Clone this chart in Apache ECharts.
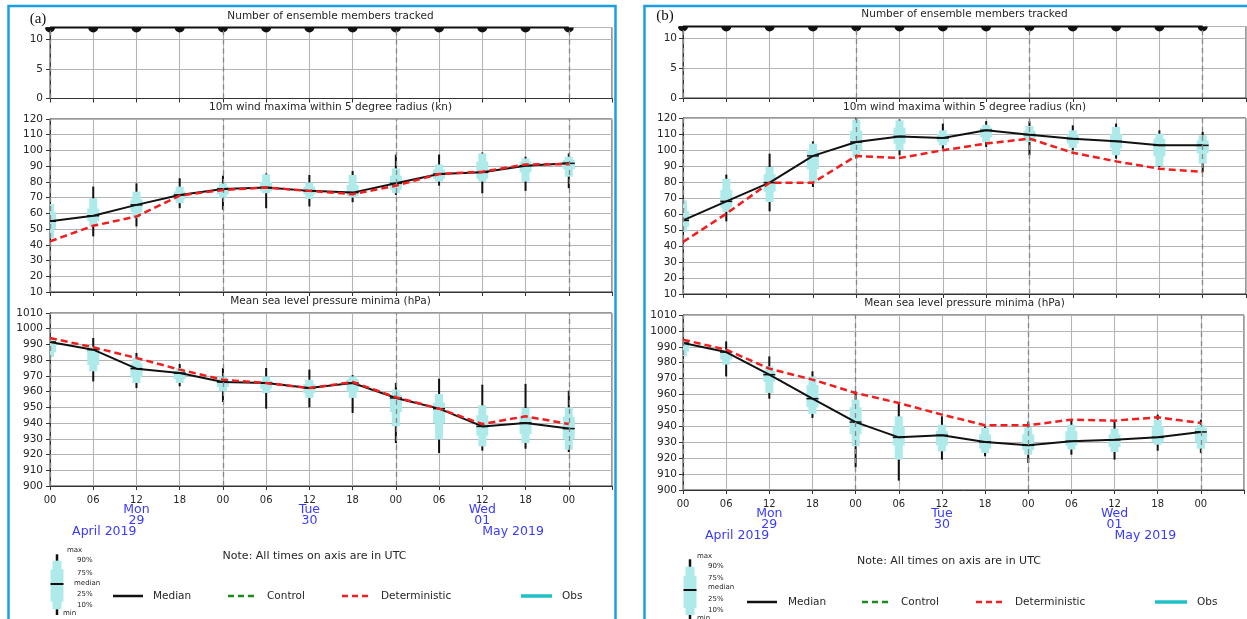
<!DOCTYPE html>
<html><head><meta charset="utf-8">
<script src="https://cdn.jsdelivr.net/npm/echarts@6/dist/echarts.min.js"></script>
<style>html,body{margin:0;padding:0;background:#fff}#c{width:1247px;height:619px}</style>
</head><body><div id="c"></div>
<script>
// ---------------- data ----------------
const timeLabels = ['00','06','12','18','00','06','12','18','00','06','12','18','00'];
const dayLabels = ['', '', 'Mon\n29', '', '', '', 'Tue\n30', '', '', '', 'Wed\n01', '', '', ''];
const monthLabels = ['April 2019', 'May 2019'];
const monthLabelIndex = [2, 10];
const dayBoundaryIndex = [0, 4, 8, 12];

const membersA = [12,12,12,12,12,12,12,12,12,12,12,12,12];
const membersB = [12,12,12,12,12,12,12,12,12,12,12,12,12];

// wind (kn): [min, p10, p25, median, p75, p90, max]
const windBoxesA = [
  [43,44,50,55,61,66,67],
  [45.4,51.7,55,58.5,63,69.6,77],
  [51.7,57,61,65.4,69,73.8,79.1],
  [63.3,66.5,69,71.7,74,77,82.3],
  [62.3,69.6,72,75.5,77,79.1,84],
  [63.3,72.8,74,76.4,80,84.8,85.4],
  [64.4,69.2,72,74.3,77,79.7,84.4],
  [67.1,70,71,73.2,78,84.4,86.9],
  [71.7,72.8,75,79.1,84,88.6,97.4],
  [77.6,80.2,82,85,88,91.1,97.4],
  [72.8,80.2,82,86.1,93,98.1,98.7],
  [74.3,80.2,86,90.3,93,94.9,96],
  [76,83.3,88,91.8,94,96,98.1]
];
const windMedianA = [55,58.5,65.4,71.7,75.5,76.4,74.3,73.2,79.1,85,86.1,90.3,91.8];
const windDetA    = [42.2,52.1,58,71.3,74.9,76.4,74.3,72.2,77.6,85,86.5,91.1,91.3];

const presBoxesA = [
  [981,982,985,991.6,992,993,994],
  [966.5,972.9,977,986.7,987.5,988.5,994.1],
  [962.3,965.5,969,974.6,978,981.4,984.6],
  [963.4,965.5,968,971.8,973,975,977.6],
  [953.4,960.2,963,966.1,968,969.7,975],
  [949.2,959.1,962,965.5,967,969.7,975],
  [950,956,959,962.3,965,967.6,974],
  [946.4,956,960,965.5,968,969.7,970.5],
  [927.3,937.9,947,956,958,961.3,965.5],
  [921,929.5,940,949.2,953,958.5,968.2],
  [922.5,925.2,932,937.9,945,951.3,964.4],
  [923.7,927.3,933,940.1,944,949.6,964.9],
  [921.6,923.1,930,936.5,944,950,960.6]
];
const presMedianA = [991.6,986.7,974.6,971.8,966.1,965.5,962.3,965.5,956,949.2,937.9,940.1,936.5];
const presDetA    = [994.1,988.2,981.4,974,967.6,965.5,962.3,966.1,956.4,949.2,939.4,944.3,939.4];

const windBoxesB = [
  [47,48.8,52,56,62,68.5,69],
  [55.4,61.3,64,67.9,75,82,84.6],
  [61.7,67.5,74,79.6,85,89.4,97.7],
  [76.9,79,88,96.3,100,104,105.4],
  [94.6,95.6,100,105,112,119,120],
  [96.7,99.8,104,108.5,114,118.5,119],
  [100.8,102.9,105,107.5,110,112.3,116.5],
  [101.9,105,108,112.3,114,115.8,118],
  [96.7,105,106,109.6,112,115,118],
  [99.8,101.3,104,107.1,110,112.3,115.4],
  [94.6,96.7,101,105.4,110,114.4,116.5],
  [89.4,90,96,102.9,107,110.2,112.3],
  [86.3,91.5,98,102.9,106,109.2,111.3]
];
const windMedianB = [56,67.9,79.6,96.3,105,108.5,107.5,112.3,109.6,107.1,105.4,102.9,102.9];
const windDetB    = [42.5,60.2,79.6,79.6,96.3,95,99.8,104,107.1,98.3,92.9,88.3,86.3];

const presBoxesB = [
  [983,984,987,992.4,993,993.4,994],
  [971.4,978.8,982,986.7,987,988.2,993.4],
  [957.4,961,968,972.5,975,977.7,984],
  [945.3,947.8,952,957.4,966,971.4,974.6],
  [914.3,927.5,935,942.7,952,956.8,962],
  [905.9,919.1,928,933.1,940,946.3,954.7],
  [919.1,924.3,928,934.4,937,941,946.3],
  [921.2,923.3,926,930.2,935,939,940],
  [917,922.2,925,928.1,935,939.4,943],
  [922.2,925.4,928,930.6,937,941,944.2],
  [919.1,923.9,927,931.6,935,938.6,943.2],
  [924.7,928.5,930,933.1,940,944.2,947.4],
  [923.3,926,930,936.5,939,941,944.2]
];
const presMedianB = [992.4,986.7,972.5,957.4,942.7,933.1,934.4,930.2,928.1,930.6,931.6,933.1,936.5];
const presDetB    = [994.5,988.2,976.3,969.4,961,954.7,947.4,940.7,940.7,944.2,943.6,945.7,942.1];

// ---------------- styling ----------------
const FONT = '"DejaVu Sans", sans-serif';
const GRIDC = '#b4b4b4';
const SPINE = '#333';
const CYAN = '#aeeaea';
const RED = '#f01e1e';
const BLUE = '#3a3aff';
const TXT = '#262626';

const gridDefs = [
  {left:50, top:27.5, width:562, height:71},
  {left:50, top:119, width:562, height:173},
  {left:50, top:313, width:562, height:173},
  {left:683, top:26.5, width:563, height:71.5},
  {left:683, top:118, width:563, height:176},
  {left:683, top:315, width:563, height:175}
];
const yRanges = [[0,12,5],[10,120,10],[900,1010,10],[0,12,5],[10,120,10],[900,1010,10]];

const grid = gridDefs.map(g => Object.assign({show:true, borderColor:SPINE, borderWidth:1, backgroundColor:'transparent'}, g));

const xAxis = [];
const yAxis = [];
gridDefs.forEach((g, gi) => {
  const bottom = (gi % 3) === 2;
  xAxis.push({
    gridIndex: gi, type:'value', min:0, max:13, interval:1, position:'bottom',
    axisLine:{show:true, onZero:false, lineStyle:{color:SPINE, width:1}},
    axisTick:{show:true, inside:false, length:4, lineStyle:{color:SPINE}},
    axisLabel:{show:bottom, margin:9, fontSize:10, color:TXT, fontFamily:FONT,
      formatter: v => { const k = Math.round(v); return timeLabels[k] !== undefined ? timeLabels[k] : ''; }},
    splitLine:{show:true, lineStyle:{color:GRIDC, width:1.1}}
  });
  const r = yRanges[gi];
  yAxis.push({
    gridIndex: gi, type:'value', min:r[0], max:r[1], interval:r[2],
    axisLine:{show:true, onZero:false, lineStyle:{color:SPINE, width:1}},
    axisTick:{show:true, inside:false, length:4, lineStyle:{color:SPINE}},
    axisLabel:{margin: gi < 3 ? 7 : 6, fontSize:10.5, color:TXT, fontFamily:FONT,
      formatter: v => (Math.abs(v % r[2]) < 1e-9 ? String(v) : '')},
    splitLine:{show:true, lineStyle:{color:GRIDC, width:1.1}}
  });
});
// extra label axes for the bottom grids (day names and months)
const extraAxis = (gi, margin, align, fmt, size) => ({
  gridIndex: gi, type:'value', min:0, max:13, interval:1, position:'bottom',
  axisLine:{show:false}, axisTick:{show:false}, splitLine:{show:false},
  axisLabel:{show:true, margin:margin, align:align, fontSize:size, lineHeight:11, color:BLUE, fontFamily:FONT,
    formatter: v => fmt(Math.round(v))}
});
[[2, 18, 40], [5, 18.5, 40]].forEach(([gi, mDay, mMonth]) => {
  xAxis.push(extraAxis(gi, mDay, 'center', k => dayLabels[k] || '', 12.5));
  xAxis.push(extraAxis(gi, mMonth, 'right', k => k === monthLabelIndex[0] ? monthLabels[0] : '', 12.5));
  xAxis.push(extraAxis(gi, mMonth, 'left', k => k === monthLabelIndex[1] ? monthLabels[1] : '', 12.5));
});

// ---------------- series ----------------
const NARROW = 8, WIDE = 12;
function renderBox(params, api) {
  const x = api.value(0);
  const p = [1,2,3,4,5,6,7].map(i => api.coord([x, api.value(i)])[1]);
  const cx = api.coord([x, api.value(4)])[0];
  const cs = params.coordSys;
  return {
    type:'group',
    clipPath:{type:'rect', shape:{x:cs.x, y:cs.y, width:cs.width, height:cs.height}},
    children:[
      {type:'rect', shape:{x:cx-NARROW/2, y:p[5], width:NARROW, height:p[1]-p[5]}, style:{fill:CYAN}},
      {type:'rect', shape:{x:cx-WIDE/2, y:p[4], width:WIDE, height:p[2]-p[4]}, style:{fill:CYAN}},
      {type:'line', shape:{x1:cx, y1:p[6], x2:cx, y2:p[5]}, style:{stroke:'#111', lineWidth:2}},
      {type:'line', shape:{x1:cx, y1:p[1], x2:cx, y2:p[0]}, style:{stroke:'#111', lineWidth:2}},
      {type:'line', shape:{x1:cx-WIDE/2, y1:p[3], x2:cx+WIDE/2, y2:p[3]}, style:{stroke:'#111', lineWidth:1.5}}
    ]
  };
}
const dayMarkLine = {
  silent:true, symbol:['none','none'], label:{show:false}, animation:false,
  lineStyle:{type:[5,4], color:'#888', width:1.3},
  data: dayBoundaryIndex.map(x => ({xAxis:x}))
};
const pts = arr => arr.map((v,i) => [i, v]);
const series = [];
function addPanel(g0, members, windBoxes, windMed, windDet, presBoxes, presMed, presDet) {
  series.push({
    type:'line', xAxisIndex:g0, yAxisIndex:g0, data:pts(members), clip:false,
    lineStyle:{color:'#111', width:1.8}, itemStyle:{color:'#111'},
    symbol:'path://M0 0 A5 5 0 0 0 10 0 Z', symbolSize:[10,5], symbolOffset:[0,2.5], showSymbol:true,
    markLine: dayMarkLine, z:3
  });
  [[g0+1, windBoxes, windMed, windDet], [g0+2, presBoxes, presMed, presDet]].forEach(([gi, boxes, med, det]) => {
    series.push({type:'custom', xAxisIndex:gi, yAxisIndex:gi, renderItem:renderBox,
      data: boxes.map((b,i) => [i].concat(b)), encode:{x:0, y:[1,2,3,4,5,6,7]}, z:2});
    series.push({type:'line', xAxisIndex:gi, yAxisIndex:gi, data:pts(med), symbol:'none',
      lineStyle:{color:'#111', width:2}, markLine: dayMarkLine, z:4});
    series.push({type:'line', xAxisIndex:gi, yAxisIndex:gi, data:pts(det), symbol:'none',
      lineStyle:{color:RED, width:2.5, type:[7,4]}, z:5});
  });
}
addPanel(0, membersA, windBoxesA, windMedianA, windDetA, presBoxesA, presMedianA, presDetA);
addPanel(3, membersB, windBoxesB, windMedianB, windDetB, presBoxesB, presMedianB, presDetB);

// ---------------- texts / legend (graphic) ----------------
const graphic = [];
function text(x, y, s, size, opts) {
  opts = opts || {};
  graphic.push({type:'text', x:x, y:y, silent:true, z:10, style:{
    text:s, fill:opts.color || TXT, font:(size)+'px '+(opts.family || FONT),
    align:opts.align || 'center', verticalAlign:'middle',
    textAlign:opts.align || 'center', textVerticalAlign:'middle'}});
}
function line(x1, y1, x2, y2, color, w, dash) {
  graphic.push({type:'line', silent:true, z:10, shape:{x1,y1,x2,y2},
    style:{stroke:color, lineWidth:w, lineDash:dash || null}});
}
function rect(x, y, w, h, fill) {
  graphic.push({type:'rect', silent:true, z:10, shape:{x, y, width:w, height:h}, style:{fill}});
}
// frames
graphic.push({type:'rect', silent:true, z:20, shape:{x:8.5, y:6, width:607, height:630}, style:{fill:'none', stroke:'#1a9fe3', lineWidth:2.5}});
graphic.push({type:'rect', silent:true, z:20, shape:{x:644.5, y:6, width:620, height:630}, style:{fill:'none', stroke:'#1a9fe3', lineWidth:2.5}});
text(38, 19.5, '(a)', 15, {family:'"Liberation Serif", serif', color:'#111'});
text(665, 16, '(b)', 15, {family:'"Liberation Serif", serif', color:'#111'});

const titles = ['Number of ensemble members tracked', '10m wind maxima within 5 degree radius (kn)', 'Mean sea level pressure minima (hPa)'];
[[330.5, [16, 107.5, 301]], [964.5, [14.5, 107, 303]]].forEach(([cx, ys]) => {
  titles.forEach((t, i) => text(cx, ys[i], t, 10.5));
});
text(314.5, 556.5, 'Note: All times on axis are in UTC', 11);
text(949, 561.5, 'Note: All times on axis are in UTC', 11);

function legendBlock(o) {
  const c = o.gx, g = o.g;
  rect(c-4.5, g.p90, 9, g.p10-g.p90, CYAN);
  rect(c-6.5, g.p75, 13, g.p25-g.p75, CYAN);
  line(c, g.max, c, g.p90, '#111', 2.5);
  line(c, g.p10, c, g.min, '#111', 2.5);
  line(c-6.5, g.med, c+6.5, g.med, '#111', 2);
  o.labels.forEach(([s, x, y]) => text(x, y, s, 7, {align:'left'}));
  const y = o.ly;
  line(o.median[0], y, o.median[1], y, '#111', 2.5);
  text(o.median[2], y, 'Median', 10.5, {align:'left'});
  line(o.control[0], y, o.control[1], y, '#1a8a1a', 2.5, [6,4]);
  text(o.control[2], y, 'Control', 10.5, {align:'left'});
  line(o.det[0], y, o.det[1], y, RED, 2.5, [6,4]);
  text(o.det[2], y, 'Deterministic', 10.5, {align:'left'});
  line(o.obs[0], y, o.obs[1], y, '#1ec0c6', 3.5);
  text(o.obs[2], y, 'Obs', 10.5, {align:'left'});
}
legendBlock({gx:57, g:{max:554.3, p90:560.7, p75:569.3, med:584, p25:601.7, p10:609.3, min:615},
  labels:[['max',67,550.5],['90%',77,559.7],['75%',77,572.7],['median',74,582.7],['25%',77,594],['10%',77,604.7],['min',63,613]],
  ly:596, median:[113,143,153], control:[228,255,267], det:[342,370,381], obs:[521,552,562]});
legendBlock({gx:690, g:{max:559.3, p90:566.7, p75:576, med:590, p25:608, p10:615, min:625},
  labels:[['max',697,555.8],['90%',708,566],['75%',708,578],['median',708,587],['25%',708,599],['10%',708,610.5],['min',697,618.5]],
  ly:602, median:[747,777,788], control:[862,890,901], det:[976,1004,1015], obs:[1155,1187,1197]});

const chart = echarts.init(document.getElementById('c'));
chart.setOption({animation:false, backgroundColor:'#fff', grid, xAxis, yAxis, series, graphic});
</script></body></html>
